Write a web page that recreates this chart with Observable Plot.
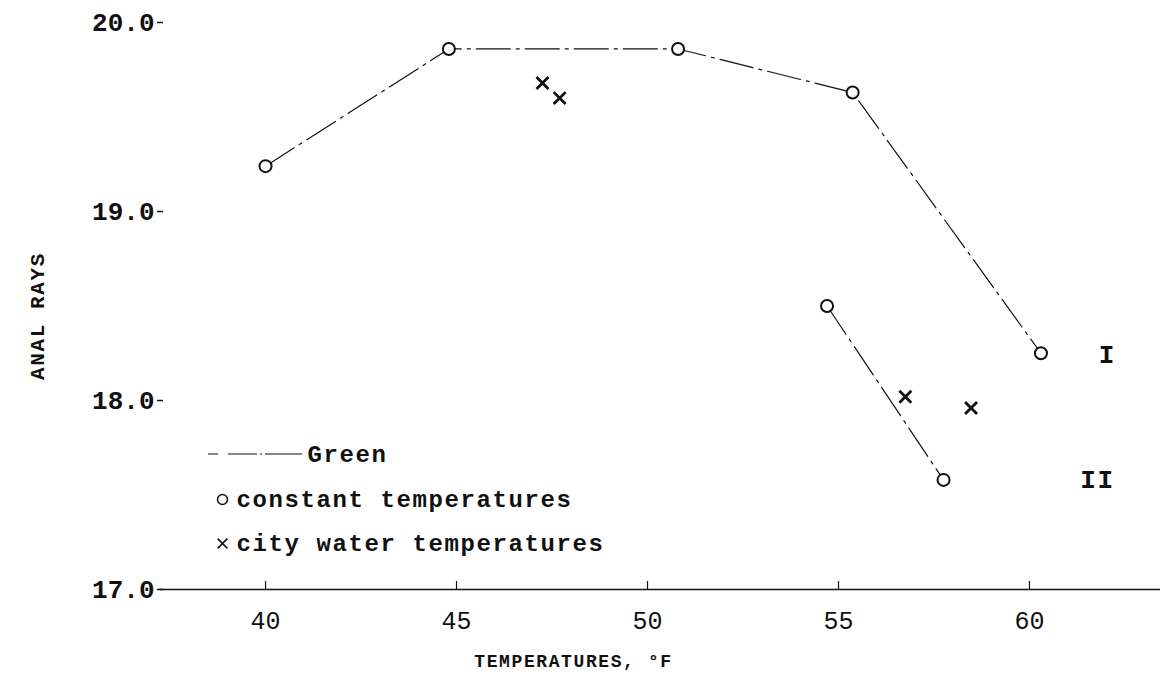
<!DOCTYPE html>
<html><head><meta charset="utf-8">
<script src="https://cdn.jsdelivr.net/npm/d3@7"></script>
<script src="https://cdn.jsdelivr.net/npm/@observablehq/plot@0.6"></script>
<style>
body{margin:0;background:#fff;}
#chart{position:relative;width:1164px;height:682px;}
</style></head><body><div id="chart"></div>
<script>
// Series I (constant temperatures, upper curve)
const tempI = [40, 44.8, 50.8, 55.37, 60.3];
const raysI = [19.24, 19.86, 19.86, 19.63, 18.25];
// Series II (constant temperatures, lower curve)
const tempII = [54.7, 57.75];
const raysII = [18.5, 17.58];
// City water temperatures (crosses)
const cityTemp = [47.25, 47.7, 56.75, 58.47];
const cityRays = [19.68, 19.6, 18.02, 17.96];
// Ticks
const xTicks = [40, 45, 50, 55, 60];
const yTicks = [17, 18, 19, 20];
// Curve labels
const seriesNames = ["I", "II"];
const seriesLabelX = [62.04, 61.78];
const seriesLabelY = [18.24, 17.58];
// Legend
const legendItems = ["Green", "constant temperatures", "city water temperatures"];

const dataI = tempI.map((t, i) => ({t, r: raysI[i]}));
const dataII = tempII.map((t, i) => ({t, r: raysII[i]}));
const dataCity = cityTemp.map((t, i) => ({t, r: cityRays[i]}));
const dataLabels = seriesNames.map((n, i) => ({n, t: seriesLabelX[i], r: seriesLabelY[i]}));

const mono = "Liberation Mono, DejaVu Sans Mono, monospace";
const ink = "#111";
const dash = "34,6,3,6";
const W = 1164, H = 682, mL = 160, mR = 4, mT = 22, mB = 93;

const plot = Plot.plot({
  width: W, height: H,
  marginLeft: mL, marginRight: mR, marginTop: mT, marginBottom: mB,
  x: {domain: [37.25, 63.43]},
  y: {domain: [17, 20]},
  style: {background: "white", color: ink, fontFamily: mono},
  marks: [
    Plot.ruleY([17], {stroke: ink, strokeWidth: 1.5}),
    Plot.ruleX(xTicks, {x: d => d, y1: 17, y2: 17, insetTop: -8, stroke: ink, strokeWidth: 1.2}),
    Plot.axisX({ticks: xTicks, tickSize: 0, tickPadding: 22, tickFormat: d => String(d),
      fontSize: 25, label: null}),
    Plot.axisY({ticks: yTicks, tickSize: 6, tickPadding: 3, dx: 3, tickFormat: d => d.toFixed(1),
      fontSize: 26, fontWeight: "bold", label: null, strokeWidth: 1.5}),
    Plot.text(["ANAL RAYS"], {frameAnchor: "left", textAnchor: "middle", lineAnchor: "middle",
      rotate: -90, dx: -123, dy: 10, fontSize: 21, fontWeight: "bold", fill: ink}),
    Plot.text(["TEMPERATURES, °F"], {frameAnchor: "bottom", textAnchor: "middle", lineAnchor: "middle",
      dx: -87, dy: 72, fontSize: 18, fontWeight: "bold", fill: ink}),
    Plot.line(dataI, {x: "t", y: "r", stroke: ink, strokeWidth: 1.2, strokeDasharray: dash}),
    Plot.line(dataII, {x: "t", y: "r", stroke: ink, strokeWidth: 1.2, strokeDasharray: dash}),
    Plot.dot(dataI, {x: "t", y: "r", r: 6, fill: "white", stroke: ink, strokeWidth: 2}),
    Plot.dot(dataII, {x: "t", y: "r", r: 6, fill: "white", stroke: ink, strokeWidth: 2}),
    Plot.dot(dataCity, {x: "t", y: "r", symbol: "times", r: 5.5, stroke: ink, strokeWidth: 2.8}),
    Plot.text(dataLabels, {x: "t", y: "r", text: "n", fontSize: 26, fontWeight: "bold", fill: ink}),
    // legend
    Plot.text([legendItems[0]], {frameAnchor: "bottom-left", textAnchor: "start", lineAnchor: "middle",
      dx: 147, dy: -135, fontSize: 24, fontWeight: "bold", fill: ink}),
    Plot.dot([0], {frameAnchor: "bottom-left", dx: 62, dy: -90, r: 5, fill: "white", stroke: ink, strokeWidth: 1.5}),
    Plot.text([legendItems[1]], {frameAnchor: "bottom-left", textAnchor: "start", lineAnchor: "middle",
      dx: 76, dy: -90, fontSize: 24, fontWeight: "bold", fill: ink}),
    Plot.dot([0], {frameAnchor: "bottom-left", dx: 62, dy: -46, symbol: "times", r: 4.5, stroke: ink, strokeWidth: 1.5}),
    Plot.text([legendItems[2]], {frameAnchor: "bottom-left", textAnchor: "start", lineAnchor: "middle",
      dx: 76, dy: -46, fontSize: 24, fontWeight: "bold", fill: ink})
  ]
});

const svg = d3.select(plot);
// typewriter-like letter spacing for the free texts
svg.selectAll("g[aria-label='text'] text").attr("letter-spacing", "1.6");
// legend line sample
svg.append("line")
  .attr("x1", mL + 48).attr("x2", mL + 142)
  .attr("y1", H - mB - 135).attr("y2", H - mB - 135)
  .attr("stroke", ink).attr("stroke-width", 1.2)
  .attr("stroke-dasharray", "10,10,29,3,2,3,40");
document.getElementById("chart").appendChild(plot);
</script></body></html>
